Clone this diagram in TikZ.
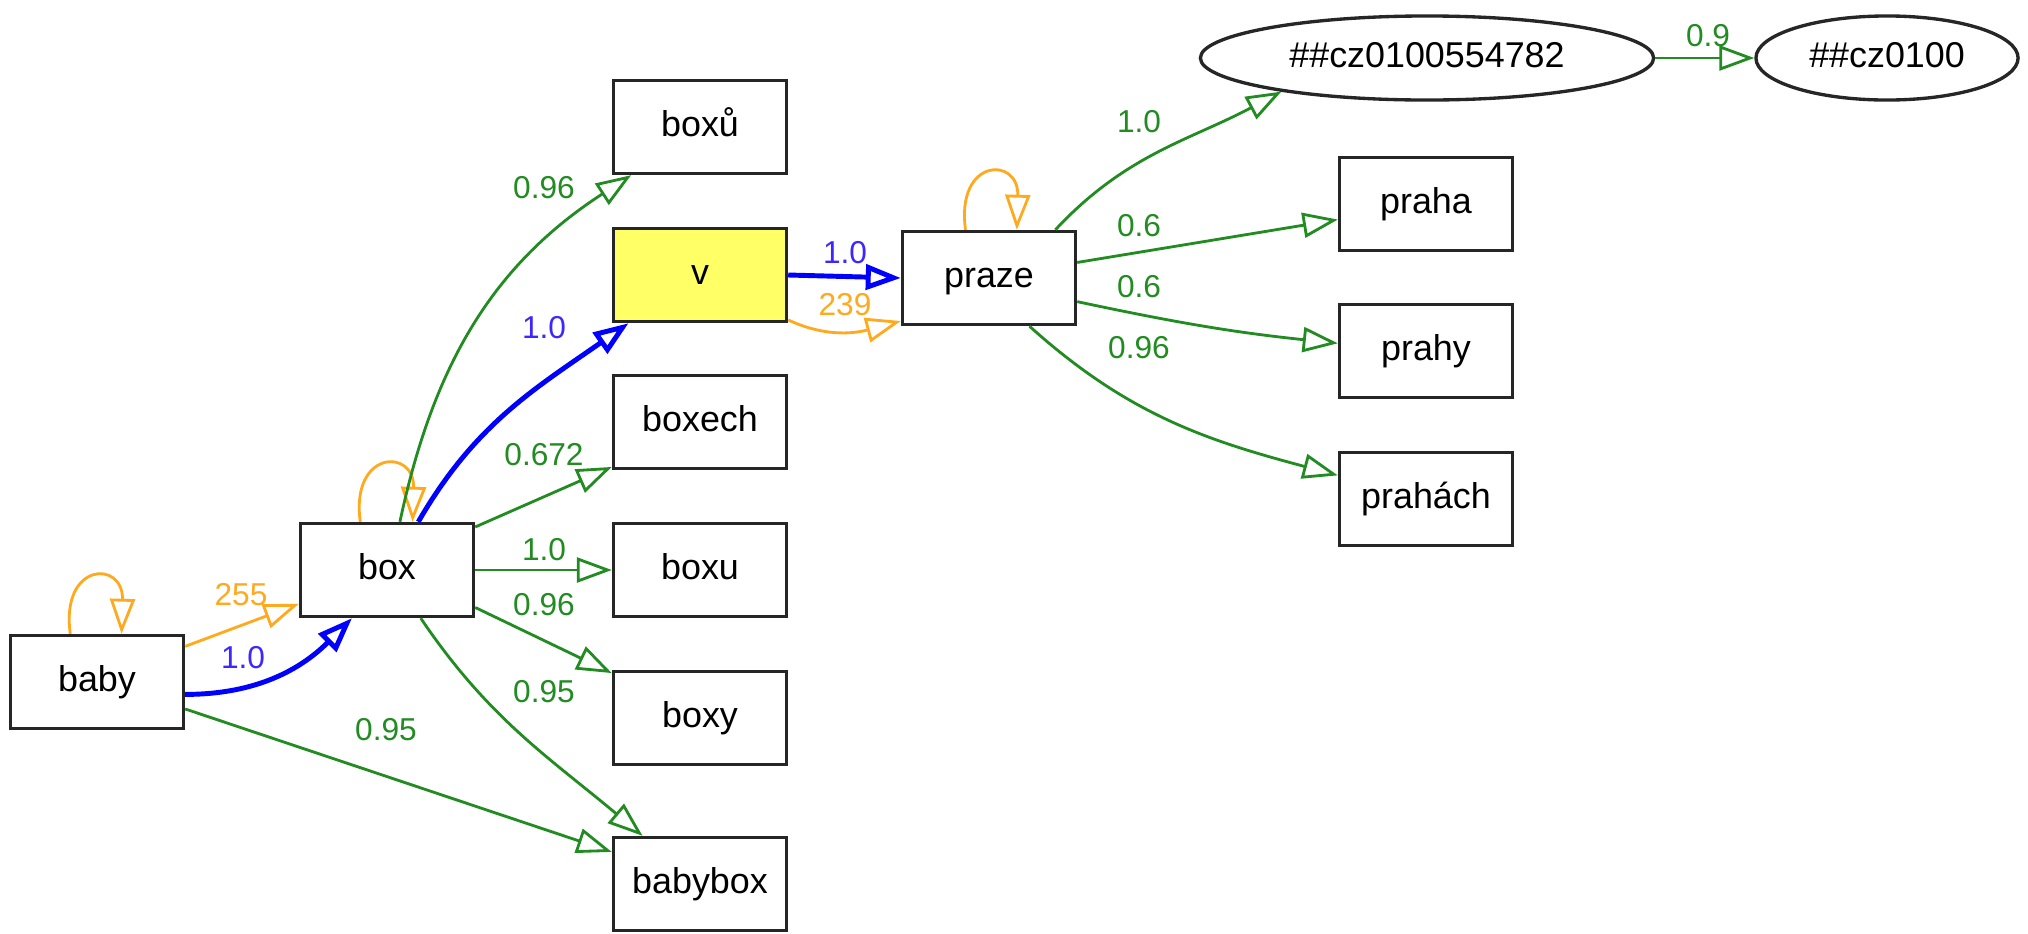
\documentclass[tikz,border=0pt]{standalone}
\usepackage{fontspec}
\setmainfont{Liberation Sans}
\usetikzlibrary{arrows.meta,shapes.geometric}
\definecolor{eg}{RGB}{34,139,34}
\definecolor{eo}{RGB}{255,170,30}
\definecolor{eb}{RGB}{0,0,255}
\definecolor{lb}{RGB}{60,40,255}
\definecolor{vfill}{RGB}{255,255,102}

\begin{document}
\begin{tikzpicture}[x=0.01cm,y=0.01cm,
  word/.style={draw=black!85, line width=0.95pt, rectangle,
    minimum width=1.73cm, minimum height=0.93cm, inner sep=0pt,
    font=\fontsize{10.2}{12}\selectfont, text height=0.75em, text depth=0.19em},
  code/.style={draw=black!85, line width=0.95pt, ellipse, inner sep=0pt,
    minimum height=0.84cm,
    font=\fontsize{10.2}{12}\selectfont, text height=0.75em, text depth=0.19em},
  edge/.style={-{Triangle[open,length=0.35cm,width=0.25cm]}, line width=0.8pt},
  ge/.style={edge, draw=eg},
  oe/.style={edge, draw=eo},
  be/.style={edge, draw=eb, line width=1.4pt},
  lab/.style={font=\fontsize{9}{11}\selectfont, inner sep=0pt},
  gl/.style={lab, text=eg},
  ol/.style={lab, text=eo},
  bl/.style={lab, text=lb}
]
\useasboundingbox (0,0) rectangle (2028,-933);
\fill[white] (0,0) rectangle (2028,-933);

% word forms
\node[word] (baby)    at (97,-682)   {baby};
\node[word] (box)     at (387,-570)  {box};
\node[word] (boxuu)   at (700,-127)  {boxů};
\node[word, fill=vfill] (v) at (700,-275) {v};
\node[word] (boxech)  at (700,-422)  {boxech};
\node[word] (boxu)    at (700,-570)  {boxu};
\node[word] (boxy)    at (700,-718)  {boxy};
\node[word] (babybox) at (700,-884)  {babybox};
\node[word] (praze)   at (989,-278)  {praze};
\node[word] (praha)   at (1426,-204) {praha};
\node[word] (prahy)   at (1426,-351) {prahy};
\node[word] (prahach) at (1426,-499) {prahách};

% codes
\node[code, minimum width=4.53cm] (c1) at (1427,-58) {\#\#cz0100554782};
\node[code, minimum width=2.62cm] (c2) at (1887,-58) {\#\#cz0100};

% self loops
\draw[oe] (baby.119.2) .. controls +(-10,72) and +(2,74) .. (baby.63.7);
\draw[oe] (box.119.2) .. controls +(-10,72) and +(2,74) .. (box.62.7);
\draw[oe] (praze.116.6) .. controls +(-10,72) and +(2,74) .. (praze.60.5);

% from baby
\draw[oe] (baby.22.6) -- (box.-159.1);
\draw[be] (baby.-8.3) to[out=0,in=225] (box.-126.2);
\draw[ge] (baby.-17.9) -- (babybox.160.9);

% from box
\draw[ge] (box.75.5) to[out=78,in=213] (boxuu.-145.2);
\draw[be] (box.57.2) to[out=60,in=215] (v.-146);
\draw[ge] (box.26.4) -- (boxech.-153.6);
\draw[ge] (box.east) -- (boxu.west);
\draw[ge] (box.-23.7) -- (boxy.153.6);
\draw[ge] (box.-55.5) to[out=-56,in=140] (babybox.140.8);

% from v
\draw[be] (v.east) -- (praze.west);
\draw[oe] (v.-27) to[out=-25,in=-165] (praze.-154.6);

% from praze
\draw[ge] (praze.36.1) to[out=47,in=208] (c1.-167);
\draw[ge] (praze.10.2) -- (praha.-170.8);
\draw[ge] (praze.-15.9) to[out=-12,in=174] (prahy.175.4);
\draw[ge] (praze.-50.6) to[out=-42,in=165] (prahach.165.1);

% between codes
\draw[ge] (c1.east) -- (c2.west);

% edge weights
\node[ol] (w1)  at (241,-595)  {255};
\node[bl] (w2)  at (243,-658)  {1.0};
\node[gl] (w3)  at (386,-730)  {0.95};
\node[gl] (w4)  at (544,-188)  {0.96};
\node[bl] (w5)  at (544,-328)  {1.0};
\node[gl] (w6)  at (544,-455)  {0.672};
\node[gl] (w7)  at (544,-550)  {1.0};
\node[gl] (w8)  at (544,-605)  {0.96};
\node[gl] (w9)  at (544,-692)  {0.95};
\node[bl] (w10) at (845,-253)  {1.0};
\node[ol] (w11) at (845,-305)  {239};
\node[gl] (w12) at (1139,-122) {1.0};
\node[gl] (w13) at (1139,-226) {0.6};
\node[gl] (w14) at (1139,-287) {0.6};
\node[gl] (w15) at (1139,-348) {0.96};
\node[gl] (w16) at (1708,-36)  {0.9};
\end{tikzpicture}
\end{document}
